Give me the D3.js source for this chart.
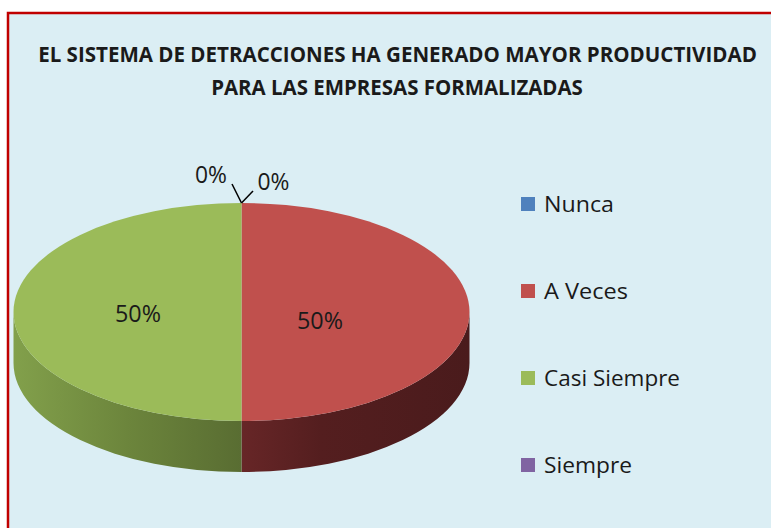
<!doctype html>
<html lang="es">
<head>
<meta charset="UTF-8">
<title>Detracciones</title>
<style>
  body { margin: 0; background: #fff; }
  svg { display: block; }
  text { font-family: "Open Sans", "Liberation Sans", sans-serif; fill: #1a1a1a; }
  .title { font-weight: bold; font-size: 21px; }
  .pct { font-size: 24px; }
  .legend text { font-size: 22px; }
</style>
</head>
<body>
<script src="https://cdn.jsdelivr.net/npm/d3@7"></script>
<script>
var categories = ["Nunca", "A Veces", "Casi Siempre", "Siempre"];
var values = [0, 50, 50, 0];
var colors = ["#4F81BD", "#C0504D", "#9BBB59", "#8064A2"];
var titleLines = ["EL SISTEMA DE DETRACCIONES HA GENERADO MAYOR PRODUCTIVIDAD",
                  "PARA LAS EMPRESAS FORMALIZADAS"];

var width = 771, height = 528;
var cx = 241.5, cy = 312, rx = 228, ry = 109, depth = 51;

var svg = d3.select("body").append("svg")
  .attr("width", width)
  .attr("height", height);

// chart area
svg.append("rect")
  .attr("x", 8).attr("y", 13)
  .attr("width", width + 10).attr("height", height)
  .attr("fill", "#DBEEF4")
  .attr("stroke", "#C00000")
  .attr("stroke-width", 2.5);

// squeeze a centred text horizontally so it spans w pixels
function fitCentered(g, x, y, txt, cls, w) {
  var t = g.append("text").attr("class", cls).attr("text-anchor", "middle").text(txt);
  var len = t.node().getComputedTextLength();
  var s = w / len;
  t.attr("transform", "translate(" + x + "," + y + ") scale(" + s + ",1)");
  return t;
}
function fitStart(g, x, y, txt, cls, w) {
  var t = g.append("text").attr("class", cls).text(txt);
  var len = t.node().getComputedTextLength();
  var s = w / len;
  t.attr("transform", "translate(" + x + "," + y + ") scale(" + s + ",1)");
  return t;
}

// title
fitCentered(svg, 397.5, 62, titleLines[0], "title", 719);
fitCentered(svg, 397, 95, titleLines[1], "title", 372);

// gradients for the side walls
var defs = svg.append("defs");
var sideStops = {
  "A Veces": [["0%", "#672627"], ["35%", "#541E1F"], ["100%", "#4A1B1C"]],
  "Casi Siempre": [["0%", "#82A04B"], ["50%", "#6C853C"], ["100%", "#596D32"]]
};
Object.keys(sideStops).forEach(function(k, i) {
  var x1 = k === "A Veces" ? cx : cx - rx;
  var x2 = k === "A Veces" ? cx + rx : cx;
  var g = defs.append("linearGradient")
    .attr("id", "side" + i)
    .attr("gradientUnits", "userSpaceOnUse")
    .attr("x1", x1).attr("x2", x2).attr("y1", 0).attr("y2", 0);
  sideStops[k].forEach(function(s) {
    g.append("stop").attr("offset", s[0]).attr("stop-color", s[1]);
  });
  sideStops[k].id = "side" + i;
});

var pie = d3.pie().sort(null).value(function(d) { return d; });
var arcs = pie(values);

function pt(a, dy) {
  return [cx + rx * Math.sin(a), cy - ry * Math.cos(a) + (dy || 0)];
}
function topPath(a0, a1) {
  var p0 = pt(a0), p1 = pt(a1);
  var large = (a1 - a0) > Math.PI ? 1 : 0;
  return "M" + cx + "," + cy + "L" + p0 + "A" + rx + "," + ry + " 0 " + large + " 1 " + p1 + "Z";
}
function sidePath(a0, a1) {
  var p0 = pt(a0), p1 = pt(a1), q1 = pt(a1, depth), q0 = pt(a0, depth);
  return "M" + p0 + "A" + rx + "," + ry + " 0 0 1 " + p1 +
         "L" + q1 + "A" + rx + "," + ry + " 0 0 0 " + q0 + "Z";
}

// side walls (front half only)
arcs.forEach(function(d, i) {
  var a0 = Math.max(d.startAngle, Math.PI / 2);
  var a1 = Math.min(d.endAngle, 3 * Math.PI / 2);
  if (a1 <= a0) return;
  var fill = sideStops[categories[i]] ? "url(#" + sideStops[categories[i]].id + ")" : colors[i];
  svg.append("path").attr("d", sidePath(a0, a1)).attr("fill", fill);
});

// top faces
arcs.forEach(function(d, i) {
  if (d.value <= 0) return;
  svg.append("path").attr("d", topPath(d.startAngle, d.endAngle)).attr("fill", colors[i]);
});

// labels
var total = d3.sum(values);
var labelPos = [[211, 183], [320, 329], [138, 322], [273.5, 190]];
var leaderEnd = [[232, 184], null, null, [253, 191]];
arcs.forEach(function(d, i) {
  var pctText = Math.round(d.value / total * 100) + "%";
  fitCentered(svg, labelPos[i][0], labelPos[i][1], pctText, "pct", d.value > 0 ? 46 : 32);
  if (leaderEnd[i]) {
    var p = pt(d.startAngle);
    svg.append("line")
      .attr("x1", p[0]).attr("y1", p[1])
      .attr("x2", leaderEnd[i][0]).attr("y2", leaderEnd[i][1])
      .attr("stroke", "#000").attr("stroke-width", 1.5);
  }
});

// legend
var legendY = d3.scalePoint().domain(categories).range([204, 465]);
var legendW = [70, 84, 136, 88];
var lg = svg.append("g").attr("class", "legend");
categories.forEach(function(c, i) {
  lg.append("rect")
    .attr("x", 521).attr("y", legendY(c) - 7)
    .attr("width", 14).attr("height", 14)
    .attr("fill", colors[i]);
  fitStart(lg, 544, legendY(c) + 8, c, "", legendW[i]);
});
</script>
</body>
</html>
